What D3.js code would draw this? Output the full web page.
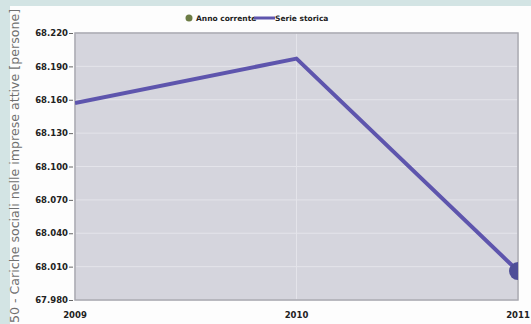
<!DOCTYPE html>
<html>
<head>
<meta charset="utf-8">
<script src="https://cdn.jsdelivr.net/npm/d3@7"></script>
<style>
	body { margin: 0; background: #d3e4e4; }
	svg { display: block; }
	.tick text { font-family: "DejaVu Sans", sans-serif; font-weight: bold; font-size: 8.5px; fill: #222; }
</style>
</head>
<body>
<script>
var width = 531,
	height = 324;

// Chart data
var years = [2009, 2010, 2011];
var values = [68157, 68197, 68006];
var yTicks = [67980, 68010, 68040, 68070, 68100, 68130, 68160, 68190, 68220];
var legendLabels = ["Anno corrente", "Serie storica"];
var yTitle = "50 - Cariche sociali nelle imprese attive [persone]";

var margin = {left: 75, right: 13, top: 33, bottom: 24};

var svg = d3.select("body").append("svg")
	.attr("width", width)
	.attr("height", height);

// White panel over the teal background
svg.append("rect")
	.attr("x", 10)
	.attr("y", 6)
	.attr("width", width - 10)
	.attr("height", height - 6)
	.attr("fill", "#fdfdfd");

var x = d3.scaleLinear()
	.domain([2009, 2011])
	.range([margin.left, width - margin.right]);

var y = d3.scaleLinear()
	.domain([67980, 68220])
	.range([height - margin.bottom, margin.top]);

// Plot background
svg.append("rect")
	.attr("x", x(2009))
	.attr("y", y(68220))
	.attr("width", x(2011) - x(2009))
	.attr("height", y(67980) - y(68220))
	.attr("fill", "#d5d5dd");

// Grid lines
svg.append("g")
	.selectAll("line")
	.data(yTicks)
	.enter().append("line")
	.attr("x1", x(2009))
	.attr("x2", x(2011))
	.attr("y1", function(d) { return y(d); })
	.attr("y2", function(d) { return y(d); })
	.attr("stroke", "#e4e4ea")
	.attr("stroke-width", 1);

svg.append("g")
	.selectAll("line")
	.data(years)
	.enter().append("line")
	.attr("x1", function(d) { return x(d); })
	.attr("x2", function(d) { return x(d); })
	.attr("y1", y(68220))
	.attr("y2", y(67980))
	.attr("stroke", "#e4e4ea")
	.attr("stroke-width", 1);

// Frame
svg.append("rect")
	.attr("x", x(2009))
	.attr("y", y(68220))
	.attr("width", x(2011) - x(2009))
	.attr("height", y(67980) - y(68220))
	.attr("fill", "none")
	.attr("stroke", "#a8a8b0")
	.attr("stroke-width", 1.5);

// Y axis
var fmt = function(d) { return d3.format(",")(d).replace(",", "."); };
svg.append("g")
	.attr("transform", "translate(" + (x(2009) - 2) + ",0)")
	.call(d3.axisLeft(y).tickValues(yTicks).tickFormat(fmt).tickSize(4).tickPadding(1))
	.call(function(g) { g.select(".domain").remove(); })
	.call(function(g) { g.selectAll(".tick line").attr("stroke", "#666"); });

// X axis labels
svg.append("g")
	.selectAll("text")
	.data(years)
	.enter().append("text")
	.attr("x", function(d) { return x(d); })
	.attr("y", height - 6)
	.attr("text-anchor", "middle")
	.style("font-family", "DejaVu Sans, sans-serif")
	.style("font-weight", "bold")
	.style("font-size", "8.5px")
	.attr("fill", "#222")
	.text(function(d) { return d; });

// Y axis title
svg.append("text")
	.attr("transform", "translate(19," + (height - 1) + ") rotate(-90)")
	.attr("text-anchor", "start")
	.style("font-family", "DejaVu Sans, sans-serif")
	.style("font-size", "12.6px")
	.attr("fill", "#707070")
	.text(yTitle);

// Clip to plot area
svg.append("clipPath")
	.attr("id", "plot")
	.append("rect")
	.attr("x", x(2009))
	.attr("y", y(68220))
	.attr("width", x(2011) - x(2009))
	.attr("height", y(67980) - y(68220));

var plot = svg.append("g").attr("clip-path", "url(#plot)");

var line = d3.line()
	.x(function(d, i) { return x(years[i]); })
	.y(function(d) { return y(d); });

plot.append("path")
	.datum(values)
	.attr("d", line)
	.attr("fill", "none")
	.attr("stroke", "#5e55ad")
	.attr("stroke-width", 4)
	.attr("stroke-linejoin", "round");

// Current year point
plot.append("circle")
	.attr("cx", x(years[2]))
	.attr("cy", y(values[2]))
	.attr("r", 9)
	.attr("fill", "#4f4f98");

// Legend
var legend = svg.append("g")
	.style("font-family", "DejaVu Sans, sans-serif")
	.style("font-weight", "bold")
	.style("font-size", "7.5px");

legend.append("circle")
	.attr("cx", 189)
	.attr("cy", 18)
	.attr("r", 3.5)
	.attr("fill", "#6c7c45");

legend.append("text")
	.attr("x", 196)
	.attr("y", 21)
	.attr("fill", "#222")
	.text(legendLabels[0]);

legend.append("line")
	.attr("x1", 254)
	.attr("x2", 275)
	.attr("y1", 18)
	.attr("y2", 18)
	.attr("stroke", "#5e55ad")
	.attr("stroke-width", 3);

legend.append("text")
	.attr("x", 275)
	.attr("y", 21)
	.attr("fill", "#222")
	.text(legendLabels[1]);
</script>
</body>
</html>
